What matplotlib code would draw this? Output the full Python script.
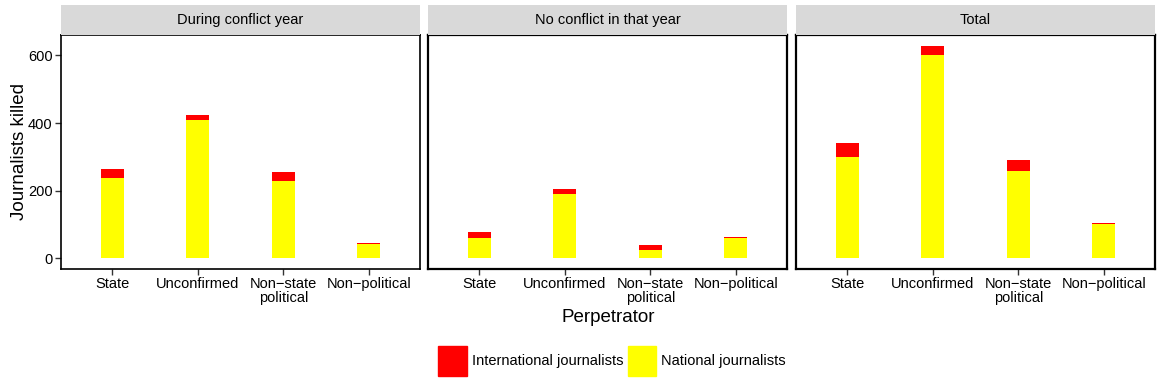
import numpy as np
import matplotlib.pyplot as plt
from matplotlib.patches import Patch

plt.rcParams['font.family'] = ['Liberation Sans', 'DejaVu Sans']

# data
panels = ['During conflict year', 'No conflict in that year', 'Total']
perpetrators = ['State', 'Unconfirmed', 'Non\u2212state\npolitical', 'Non\u2212political']
national = [
    [237, 410, 228, 41],
    [61, 190, 26, 61],
    [301, 600, 258, 102],
]
international = [
    [26, 14, 27, 3],
    [18, 15, 12, 3],
    [41, 29, 32, 3],
]

W, H = 1158, 389
fig = plt.figure(figsize=(W / 100, H / 100), dpi=100)

lefts = [61, 428, 796]
pw = 359
ax_top, ax_bot = 35, 269
strip_top = 5

x = np.arange(1, 5)
axes = []
for i, name in enumerate(panels):
    ax = fig.add_axes([lefts[i] / W, 1 - ax_bot / H, pw / W, (ax_bot - ax_top) / H])
    ax.bar(x, national[i], width=0.27, color='#FFFF00', linewidth=0)
    ax.bar(x, international[i], bottom=national[i], width=0.27, color='#FF0000', linewidth=0)
    ax.set_xlim(0.4, 4.6)
    ax.set_ylim(-31.5, 660.5)
    ax.set_xticks(x)
    ax.set_xticklabels(perpetrators, fontsize=10.5, linespacing=1.0)
    ax.set_yticks([0, 200, 400, 600])
    for s in ax.spines.values():
        s.set_linewidth(1.2 if i == 0 else 1.6)
        s.set_color('black')
    ax.tick_params(axis='x', length=4, width=1, color='#333333', pad=2)
    if i == 0:
        ax.tick_params(axis='y', length=4, width=1, color='#333333', labelsize=10.5, pad=2)
    else:
        ax.tick_params(axis='y', left=False, labelleft=False)
    # strip
    sax = fig.add_axes([lefts[i] / W, 1 - ax_top / H, pw / W, (ax_top - strip_top) / H])
    sax.set_facecolor('#D9D9D9')
    for s in sax.spines.values():
        s.set_visible(False)
    sax.set_xticks([])
    sax.set_yticks([])
    sax.text(0.5, 0.5, name, ha='center', va='center', fontsize=10.5, transform=sax.transAxes)
    axes.append(ax)

axes[0].set_ylabel('Journalists killed', fontsize=13.5)
axes[0].yaxis.set_label_coords((28 - 61) / pw, 0.5)
fig.text((61 + 796 + pw) / 2 / W, 1 - 318 / H, 'Perpetrator', ha='center', va='center', fontsize=13.5)

# legend
handles = [Patch(color='#FF0000'), Patch(color='#FFFF00')]
fig.legend(handles, ['International journalists', 'National journalists'],
           loc='center', bbox_to_anchor=(612 / W, 1 - 361 / H), ncol=2, frameon=False,
           fontsize=10.5, handlelength=1.95, handleheight=2.7, handletextpad=0.35,
           columnspacing=0.3, borderaxespad=0)

fig.savefig('out.png', dpi=100)
